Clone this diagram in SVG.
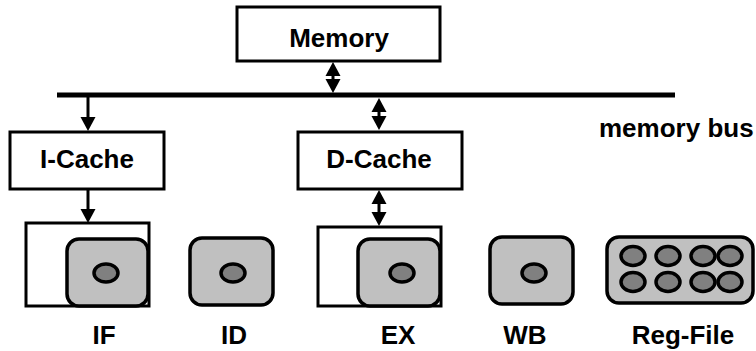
<svg xmlns="http://www.w3.org/2000/svg" width="756" height="351" viewBox="0 0 756 351">
<style>
  .box{fill:#fff;stroke:#000;stroke-width:3}
  .stage{fill:#c0c0c0;stroke:#000;stroke-width:3.5}
  .dot{fill:#808080;stroke:#000;stroke-width:3.5}
  .lbl{font-family:"Liberation Sans",Arial,sans-serif;font-weight:bold;font-size:26px;fill:#000;text-anchor:middle}
  .conn{stroke:#000;stroke-width:3;fill:none}
  .bus{stroke:#000;stroke-width:5}
</style>
<defs>
  <marker id="ah" markerUnits="userSpaceOnUse" markerWidth="16" markerHeight="16" refX="0" refY="8" orient="auto-start-reverse" viewBox="0 0 16 16">
    <path d="M0,0.5 L14,8 L0,15.5 z" fill="#000"/>
  </marker>
</defs>
<g id="memory">
  <rect class="box" x="237" y="7" width="203" height="54"/>
  <text class="lbl" x="339" y="47">Memory</text>
</g>
<g id="memory-bus">
  <line class="bus" x1="57" y1="95" x2="675" y2="95"/>
  <text class="lbl" x="599" y="137" style="text-anchor:start">memory bus</text>
</g>
<g id="icache">
  <rect class="box" x="10" y="132" width="154" height="57"/>
  <text class="lbl" x="87" y="168">I-Cache</text>
</g>
<g id="dcache">
  <rect class="box" x="298" y="132" width="164" height="57"/>
  <text class="lbl" x="379" y="168">D-Cache</text>
</g>
<g id="if">
  <rect class="box" x="26" y="223" width="123" height="83"/>
  <rect class="stage" x="67" y="239" width="81" height="67" rx="12"/>
  <ellipse class="dot" cx="106" cy="273" rx="12" ry="9"/>
  <text class="lbl" x="104" y="344">IF</text>
</g>
<g id="id">
  <rect class="stage" x="190" y="238" width="83" height="67" rx="12"/>
  <ellipse class="dot" cx="233" cy="273" rx="12" ry="9"/>
  <text class="lbl" x="234" y="344">ID</text>
</g>
<g id="ex">
  <rect class="box" x="318" y="227" width="123" height="79"/>
  <rect class="stage" x="358" y="239" width="82" height="67" rx="12"/>
  <ellipse class="dot" cx="402" cy="273" rx="12" ry="9"/>
  <text class="lbl" x="398" y="344">EX</text>
</g>
<g id="wb">
  <rect class="stage" x="490" y="237" width="83" height="67" rx="12"/>
  <ellipse class="dot" cx="534" cy="273" rx="12" ry="9"/>
  <text class="lbl" x="525" y="344">WB</text>
</g>
<g id="regfile">
  <rect class="stage" x="607" y="237" width="146" height="66" rx="12"/>
  <ellipse class="dot" cx="633" cy="256" rx="12" ry="9.5"/>
  <ellipse class="dot" cx="668" cy="256" rx="12" ry="9.5"/>
  <ellipse class="dot" cx="703" cy="256" rx="12" ry="9.5"/>
  <ellipse class="dot" cx="730" cy="256" rx="12" ry="9.5"/>
  <ellipse class="dot" cx="633" cy="282" rx="12" ry="9.5"/>
  <ellipse class="dot" cx="668" cy="282" rx="12" ry="9.5"/>
  <ellipse class="dot" cx="703" cy="282" rx="12" ry="9.5"/>
  <ellipse class="dot" cx="730" cy="282" rx="12" ry="9.5"/>
  <text class="lbl" x="683" y="344">Reg-File</text>
</g>
<g id="connectors">
  <line class="conn" x1="333" y1="76" x2="333" y2="79" marker-start="url(#ah)" marker-end="url(#ah)"/>
  <line class="conn" x1="379" y1="112" x2="379" y2="116" marker-start="url(#ah)" marker-end="url(#ah)"/>
  <line class="conn" x1="379" y1="204" x2="379" y2="212" marker-start="url(#ah)" marker-end="url(#ah)"/>
  <line class="conn" x1="88" y1="97" x2="88" y2="117" marker-end="url(#ah)"/>
  <line class="conn" x1="88" y1="189" x2="88" y2="209" marker-end="url(#ah)"/>
</g>
</svg>
